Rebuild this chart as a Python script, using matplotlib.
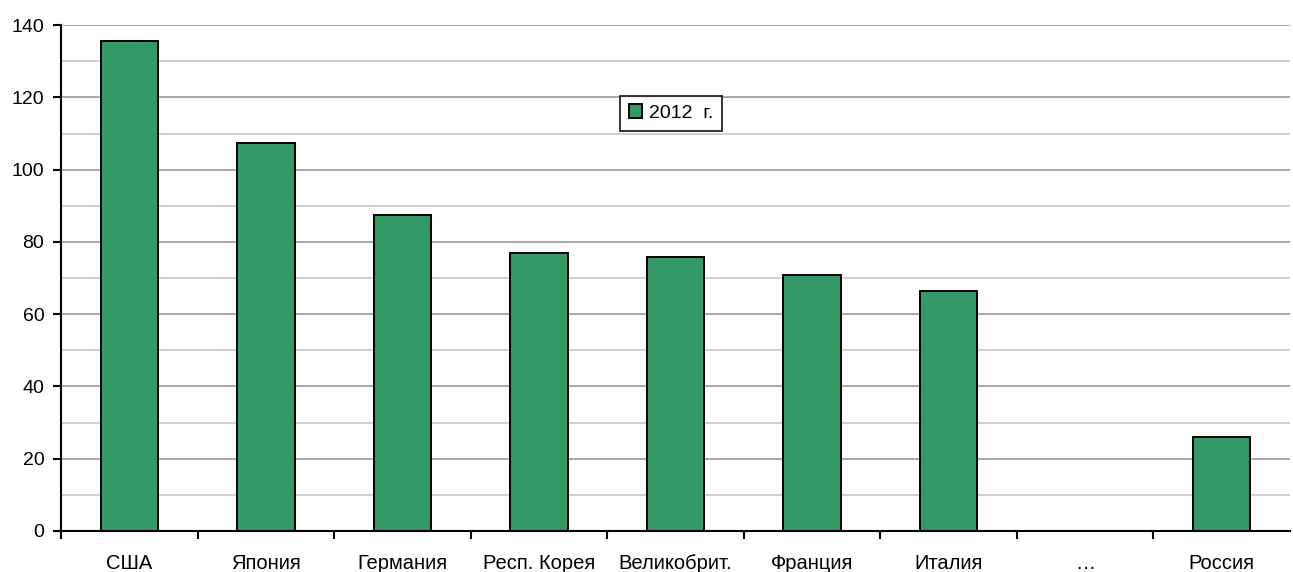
import numpy as np
import matplotlib
matplotlib.use("Agg")
import matplotlib.pyplot as plt
from matplotlib.ticker import MultipleLocator, FixedLocator

plt.rcParams["font.family"] = ["Liberation Sans", "DejaVu Sans"]

countries = ["США", "Япония", "Германия", "Респ. Корея", "Великобрит.",
             "Франция", "Италия", "…", "Россия"]
values = [135.6, 107.3, 87.5, 77.0, 75.8, 70.8, 66.4, np.nan, 26.1]
series_name = "2012  г."
BAR = "#339966"
FS = 14

fig = plt.figure(figsize=(12.93, 5.72), dpi=100)
ax = fig.add_axes([0.0472, 0.0717, 0.9505, 0.8843])

x = np.arange(len(countries))
ax.bar(x, values, width=0.42, color=BAR, edgecolor="black", linewidth=1.4,
       label=series_name, zorder=3)

ax.set_xlim(-0.5, len(countries) - 0.5)
ax.set_ylim(0, 140)
ax.yaxis.set_major_locator(MultipleLocator(20))
ax.yaxis.set_minor_locator(MultipleLocator(10))
ax.grid(axis="y", which="major", color="#999999", linewidth=1.2, zorder=0)
ax.grid(axis="y", which="minor", color="#c8c8c8", linewidth=1.2, zorder=0)

ax.set_xticks(x)
ax.set_xticklabels(countries, fontsize=14.5, va="baseline")
ax.xaxis.set_minor_locator(FixedLocator(np.arange(len(countries)) - 0.5))
ax.tick_params(axis="x", which="major", length=0, pad=27.5)
ax.tick_params(axis="x", which="minor", length=6, width=1.5, direction="out")
ax.tick_params(axis="y", which="major", length=6, width=1.5, labelsize=FS, pad=6)
ax.tick_params(axis="y", which="minor", length=0)

for s in ["top", "right"]:
    ax.spines[s].set_visible(False)
for s in ["left", "bottom"]:
    ax.spines[s].set_linewidth(1.5)
    ax.spines[s].set_zorder(4)

leg = ax.legend(loc="center", bbox_to_anchor=(0.4965, 0.826), fontsize=FS,
                frameon=True, fancybox=False, edgecolor="black",
                handlelength=0.7, handleheight=0.7, handletextpad=0.35,
                borderpad=0.45, borderaxespad=0)
leg.get_frame().set_linewidth(1.4)

fig.savefig("out.png", dpi=100)
